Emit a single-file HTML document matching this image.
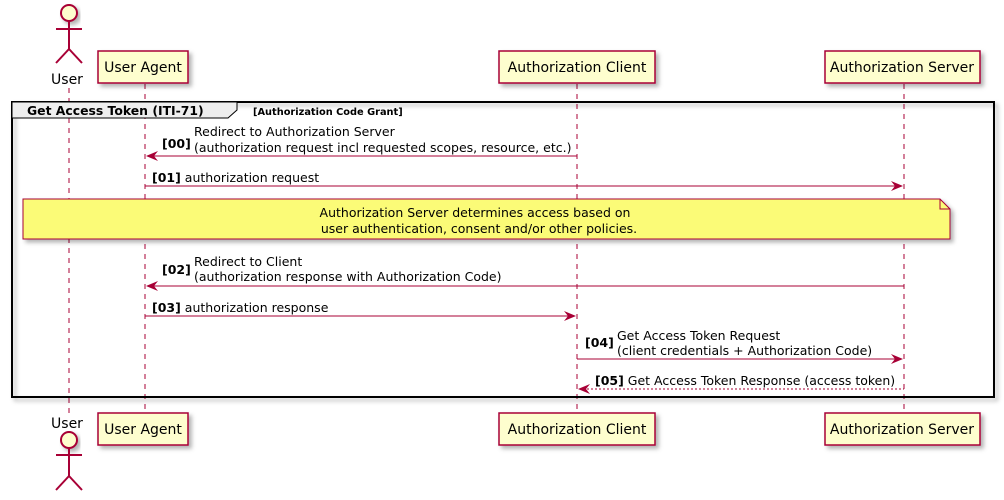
<!DOCTYPE html>
<html><head><meta charset="utf-8"><style>
html,body{margin:0;padding:0;background:#fff;}
svg{display:block;font-family:"DejaVu Sans","Liberation Sans",sans-serif;}
</style></head><body>
<svg width="1004" height="500" viewBox="0 0 1004 500" xmlns="http://www.w3.org/2000/svg">
<defs>
<filter id="sh" x="-10%" y="-10%" width="130%" height="150%"><feDropShadow dx="3" dy="3" stdDeviation="2" flood-color="#000" flood-opacity="0.3"/></filter>
</defs>
<g stroke="#A80036" stroke-width="1" stroke-dasharray="5,5">
<line x1="69" y1="88" x2="69" y2="413"/>
<line x1="145" y1="84" x2="145" y2="413"/>
<line x1="577" y1="84" x2="577" y2="413"/>
<line x1="904" y1="84" x2="904" y2="413"/>
</g>
<g stroke="#A80036" stroke-width="2" fill="none">
<circle cx="69" cy="13" r="8" fill="#FEFECE" filter="url(#sh)"/>
<line x1="69" y1="21" x2="69" y2="49"/><line x1="56" y1="29" x2="82" y2="29"/>
<line x1="69" y1="49" x2="56" y2="63"/><line x1="69" y1="49" x2="82" y2="63"/>
<circle cx="69" cy="440" r="8" fill="#FEFECE" filter="url(#sh)"/>
<line x1="69" y1="448" x2="69" y2="476"/><line x1="56" y1="455" x2="82" y2="455"/>
<line x1="69" y1="476" x2="56" y2="490"/><line x1="69" y1="476" x2="82" y2="490"/>
</g>
<g font-size="14" fill="#000" text-anchor="middle">
<text x="67" y="84">User</text><text x="67" y="428">User</text>
</g>
<g fill="#FEFECE" stroke="#A80036" stroke-width="1.5" filter="url(#sh)">
<rect x="98" y="51" width="90" height="32"/><rect x="499" y="51" width="156" height="32"/><rect x="825" y="51" width="155" height="32"/>
<rect x="98" y="413" width="90" height="32"/><rect x="499" y="413" width="156" height="32"/><rect x="825" y="413" width="155" height="32"/>
</g>
<g font-size="14" fill="#000" text-anchor="middle">
<text x="143" y="72">User Agent</text><text x="577" y="72">Authorization Client</text><text x="902" y="72">Authorization Server</text>
<text x="143" y="434">User Agent</text><text x="577" y="434">Authorization Client</text><text x="902" y="434">Authorization Server</text>
</g>
<rect x="12" y="102" width="982" height="295" fill="none" stroke="#000" stroke-width="2" filter="url(#sh)"/>
<path d="M12,102 L237,102 L237,110 L228,118 L12,118 Z" fill="#EEEEEE" stroke="#000" stroke-width="1"/>
<text x="27" y="115" font-size="12.4" font-weight="bold">Get Access Token (ITI-71)</text>
<text x="253" y="115" font-size="9.8" font-weight="bold">[Authorization Code Grant]</text>
<path d="M23,199 L940,199 L950,209 L950,239 L23,239 Z" fill="#FBFB77" stroke="#A80036" stroke-width="1" filter="url(#sh)"/>
<path d="M940,199 L940,209 L950,209" fill="none" stroke="#A80036"/>
<g font-size="12.5" text-anchor="middle"><text x="475" y="217">Authorization Server determines access based on</text><text x="479" y="233">user authentication, consent and/or other policies.</text></g>
<g stroke="#A80036" stroke-width="1" fill="none">
<line x1="147" y1="156" x2="577" y2="156"/>
<line x1="145" y1="186" x2="902" y2="186"/>
<line x1="147" y1="286" x2="904" y2="286"/>
<line x1="145" y1="316" x2="575" y2="316"/>
<line x1="577" y1="359" x2="902" y2="359"/>
<line x1="579" y1="389" x2="904" y2="389" stroke-dasharray="2,2"/>
</g>
<g fill="#A80036">
<path d="M146,156 L158,151 L154,156 L158,161 Z"/>
<path d="M903,186 L891,181 L895,186 L891,191 Z"/>
<path d="M146,286 L158,281 L154,286 L158,291 Z"/>
<path d="M576,316 L564,311 L568,316 L564,321 Z"/>
<path d="M903,359 L891,354 L895,359 L891,364 Z"/>
<path d="M578,389 L590,384 L586,389 L590,394 Z"/>
</g>
<g font-size="12.5" fill="#000">
<text x="162" y="148" font-weight="bold">[00]</text>
<text x="194" y="136">Redirect to Authorization Server</text>
<text x="194" y="152">(authorization request incl requested scopes, resource, etc.)</text>
<text x="152" y="182"><tspan font-weight="bold">[01]</tspan> authorization request</text>
<text x="162" y="274" font-weight="bold">[02]</text>
<text x="194" y="266">Redirect to Client</text>
<text x="194" y="281">(authorization response with Authorization Code)</text>
<text x="152" y="312"><tspan font-weight="bold">[03]</tspan> authorization response</text>
<text x="585" y="347" font-weight="bold">[04]</text>
<text x="617" y="340">Get Access Token Request</text>
<text x="617" y="355">(client credentials + Authorization Code)</text>
<text x="595" y="385"><tspan font-weight="bold">[05]</tspan> Get Access Token Response (access token)</text>
</g>
</svg>
</body></html>
